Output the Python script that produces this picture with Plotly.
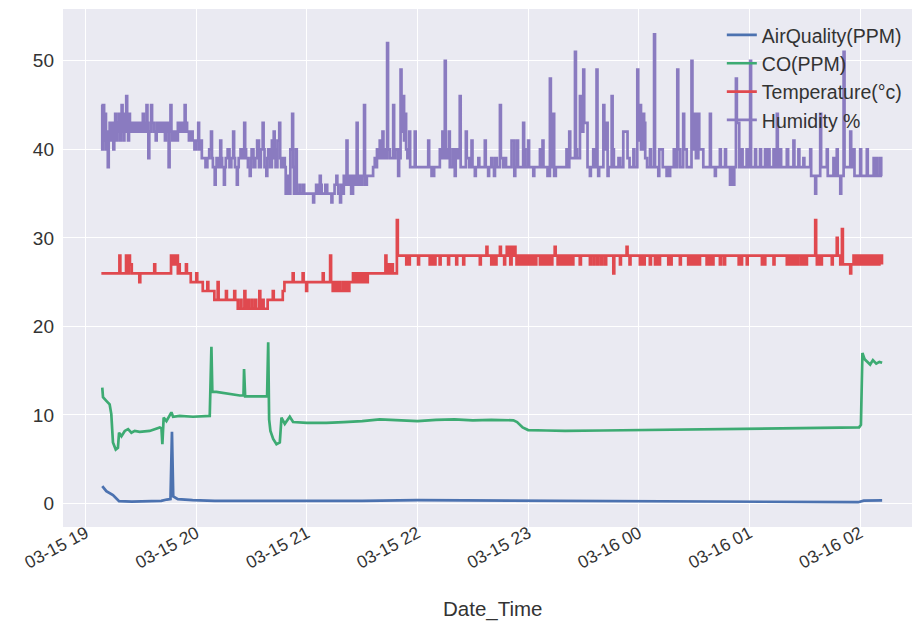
import pandas as pd
import plotly.graph_objects as go

# Sensor log, 15-16 March: readings as (minutes after 19:00, value)
START = pd.Timestamp("2019-03-15 19:00:00")

AIR_QUALITY = [
    (9.0, 1.97), (11.2, 1.4), (14.8, 0.95), (18.1, 0.27), (25, 0.22), (35, 0.25),
    (41, 0.3), (44, 0.45), (46, 0.5), (46.8, 8.1), (47.5, 0.8), (50, 0.5), (58, 0.38),
    (70, 0.3), (100, 0.28), (150, 0.3), (180, 0.38), (210, 0.35), (240, 0.28),
    (300, 0.2), (360, 0.15), (419, 0.15), (422, 0.32), (432, 0.35),
]

CO = [
    (9.0, 13.1), (9.4, 12.0), (11.2, 11.6), (13.0, 11.2), (13.9, 10.1), (14.8, 6.9),
    (16.3, 6.1), (17.5, 6.3), (18.1, 8.0), (19.4, 7.6), (21.2, 8.2), (23.0, 8.4),
    (24.8, 8.0), (26.6, 8.2), (29.3, 8.1), (34.7, 8.2), (40.2, 8.6), (41.1, 8.5),
    (41.6, 6.7), (42.3, 9.7), (43.8, 9.3), (46.5, 10.3), (47.4, 9.8), (51.0, 9.9),
    (58.2, 9.8), (67.3, 9.9), (68.2, 17.7), (68.7, 12.6), (70.9, 12.6), (76.3, 12.4),
    (83.6, 12.2), (85.6, 12.2), (85.9, 15.2), (86.5, 12.1), (94.4, 12.1), (98.4, 12.1),
    (99.0, 18.2), (99.5, 9.5), (100.2, 8.2), (101.7, 7.3), (103.5, 6.7), (105.3, 6.9),
    (106.2, 9.7), (108.0, 9.0), (110.7, 9.8), (112.5, 9.2), (120, 9.1), (130.6, 9.1),
    (140, 9.2), (150, 9.3), (159.5, 9.5), (170, 9.4), (180, 9.3), (190, 9.45), (200, 9.5),
    (210, 9.4), (220, 9.45), (232, 9.4), (234, 9.2), (237, 8.6), (240, 8.3), (250, 8.25),
    (260, 8.2), (280, 8.25), (300, 8.3), (320, 8.35), (340, 8.4), (360, 8.45), (380, 8.5),
    (400, 8.55), (419.5, 8.6), (420.5, 8.9), (421.3, 17.0), (422.5, 16.3), (423.8, 16.0),
    (425.5, 15.7), (427, 16.2), (428.8, 15.8), (430.5, 16.0), (432, 15.9),
]

TEMPERATURE = [
    (8.5, 26), (18.3, 28), (18.8, 26), (21.9, 28), (22.4, 26), (23.5, 28), (24.0, 27),
    (25.0, 26), (29.1, 25), (29.6, 26), (37.2, 27), (37.7, 26), (46.3, 28), (46.8, 27),
    (47.5, 28), (48, 27), (49, 28), (50, 26), (50.5, 27), (51, 26), (54.4, 27), (54.9, 26),
    (57, 25), (60, 26), (60.5, 25), (63.5, 24), (66, 25), (66.5, 24), (69.8, 23), (71.6, 25),
    (72.1, 23), (76.1, 24), (76.6, 23), (80.6, 24), (81.1, 23), (82.5, 22), (84, 23),
    (84.5, 22), (86.1, 24), (86.6, 22), (88, 23), (88.5, 22), (90, 23), (90.5, 22), (92, 23),
    (92.5, 22), (94.2, 24), (94.7, 22), (96, 23), (96.5, 22), (98.7, 23), (101.5, 24),
    (102, 23), (106.9, 24), (107.8, 25), (112.3, 26), (112.8, 25), (117.7, 26), (118.2, 25),
    (119.6, 24), (120.1, 25), (128.6, 26), (129.1, 25), (132.6, 28), (133.1, 25), (134, 24),
    (135, 25), (136, 24), (137, 25), (138, 24), (139.5, 25), (140, 24), (141, 25), (142, 24),
    (143, 25), (145, 26), (146, 25), (147, 26), (148, 25), (149, 26), (150, 25), (151, 26),
    (152, 25), (153, 26), (162.6, 28), (163.1, 26), (164, 27), (165, 26), (166, 27),
    (166.6, 26), (168.8, 32), (169.3, 28),
    (173.9, 27), (174.5, 28), (175.2, 27), (175.8, 28), (180.3, 27), (180.8, 28),
    (186.6, 27), (187.2, 28), (187.8, 27), (188.4, 28), (189.2, 27), (189.7, 28), (192, 27),
    (192.5, 28), (196.6, 27), (197.1, 28), (201, 27), (201.5, 28), (204.8, 27), (205.3, 28),
    (213.8, 27), (214.3, 28), (217.4, 29), (217.9, 28), (220, 27), (220.6, 28), (221.5, 27),
    (222.8, 28), (224.7, 29), (225.2, 28), (227, 27), (227.5, 28), (228.4, 29), (228.9, 28),
    (229.8, 29), (230.3, 27), (231, 29), (231.5, 28), (232.6, 29), (233.1, 28), (233.7, 27),
    (234.3, 28), (235.5, 27), (236, 28), (237, 27), (237.6, 28), (238.8, 27), (239.3, 28),
    (240.5, 27), (241, 28), (242, 27), (242.6, 28), (243.8, 27), (244.4, 28), (246.4, 27),
    (247, 28), (248, 27), (248.5, 28), (249.5, 27), (250, 28), (251, 27), (251.6, 28),
    (252.6, 27), (253.1, 28), (254.4, 29), (254.9, 28), (256, 27), (256.5, 28), (257.5, 27),
    (258, 28), (259, 27), (259.6, 28), (260.8, 27), (261.3, 28), (262.5, 27), (263, 28),
    (264, 27), (264.5, 28), (268, 27), (268.6, 28), (273.5, 27), (274, 28), (275.5, 27),
    (276, 28), (277.5, 27), (278, 28), (279.5, 27), (280, 28), (281.5, 27), (282.3, 28),
    (286.2, 26), (286.7, 28), (289.8, 27), (290.3, 28), (293.4, 29), (293.9, 28), (295, 27),
    (295.5, 28), (300.6, 27), (301.4, 28), (302.4, 27), (303.2, 28), (306, 27), (306.6, 28),
    (308.8, 27), (309.6, 28), (310.6, 27), (311.5, 28), (316, 27), (316.6, 28), (317.2, 27),
    (317.8, 28), (322.3, 27), (322.8, 28), (326.8, 27), (327.6, 28), (328.5, 27), (329.5, 28),
    (330.5, 27), (331.5, 28), (332.4, 27), (333.2, 28), (336.8, 27), (337.6, 28), (338.6, 27),
    (339.5, 28), (340, 27), (340.5, 28), (344, 27), (344.6, 28), (346.2, 27), (346.8, 28),
    (354.2, 27), (354.8, 28), (355.5, 27), (356, 28), (358.6, 27), (359.1, 28), (366.8, 27),
    (367.4, 28), (368, 27), (368.6, 28), (373.1, 27), (373.6, 28), (380.3, 27), (381, 28),
    (382, 27), (382.8, 28), (384, 27), (384.6, 28), (385.8, 27), (386.5, 28), (388, 27),
    (388.6, 28), (390, 27), (391.2, 28), (395.7, 32), (396.2, 28), (396.6, 27), (397.4, 28),
    (398.4, 27), (399.3, 28), (404.7, 27), (405.2, 28), (407.4, 30), (407.9, 28), (409.3, 27),
    (410.2, 31), (410.7, 27), (413.8, 27), (414.7, 26), (415.2, 27), (416.5, 28), (417.5, 27),
    (418.5, 28), (419.5, 27), (420.5, 28), (421.5, 27), (422.5, 28), (423.5, 27), (424.5, 28),
    (425.5, 27), (426.5, 28), (427.5, 27), (428.5, 28), (429.5, 27), (430.5, 28), (431.9, 27),
]

HUMIDITY = [
    (8.5, 45), (9.0, 40), (9.5, 45), (10.0, 41), (10.5, 44), (11.0, 40), (11.5, 42),
    (12.0, 38), (12.5, 41), (13.0, 43), (13.5, 41), (14.0, 43), (14.5, 42), (15.0, 40),
    (15.5, 43), (16.0, 44), (16.5, 41), (17.0, 43), (17.5, 42), (18.0, 44), (18.5, 41),
    (19.0, 43), (19.5, 45), (20.0, 42), (20.5, 41), (21.0, 44), (21.5, 42), (22.0, 46),
    (22.5, 43), (23.0, 41), (23.5, 44), (24.0, 42), (25.0, 43), (26.0, 42), (27.0, 43),
    (28, 42), (29, 43), (30, 42), (31, 44), (31.5, 43), (32, 42), (33, 45), (33.5, 43),
    (34, 39), (34.5, 42), (35.5, 45), (36, 43), (37, 42), (38, 41), (38.5, 43), (39, 42),
    (40, 43), (41, 42), (42, 43), (43, 41), (43.5, 42), (44, 43), (45, 38), (45.5, 42),
    (46, 45), (46.5, 42), (47, 41), (48, 42), (49, 41), (50, 43), (51, 42), (52, 43),
    (53, 42), (53.7, 45), (54.2, 43), (55, 42), (56, 41), (57, 42),
    (58, 41), (59, 40), (60, 41), (61, 43), (61.5, 40), (62, 41), (63, 39),
    (64, 39), (65, 38), (66, 39), (67, 40), (68, 42), (68.5, 39), (69, 38), (70, 36),
    (70.5, 38), (71, 39), (72, 38), (73, 41), (73.5, 39), (74, 38), (75, 36), (75.5, 38),
    (76, 39), (77, 40), (78, 38), (79, 39), (80, 42), (80.5, 39), (81, 38), (82, 36),
    (82.5, 38), (83, 39), (84, 40), (85, 39), (86, 43), (86.5, 40), (87, 39), (88, 38),
    (89, 37), (89.5, 39), (90, 40), (91, 38), (92, 39), (93, 41), (94, 38), (95, 40),
    (96, 43), (96.5, 40), (97, 38), (98, 37), (98.5, 39), (99, 40), (100, 38), (101, 41),
    (101.5, 39), (102, 42), (102.5, 40), (103, 38), (104, 41), (105, 43), (105.5, 39),
    (106, 38), (107, 39),
    (108, 38), (108.5, 35), (109, 37), (110, 35), (111, 40), (112, 44), (112.5, 38),
    (113, 35), (114, 40), (114.5, 35), (116, 36), (116.5, 35), (118, 36), (118.5, 35),
    (123.4, 34), (123.9, 35), (125, 36), (126, 35), (127, 37), (127.5, 36), (128, 35),
    (130, 36), (131, 35), (133.3, 34), (133.8, 35), (135, 36), (136, 37), (136.5, 36),
    (137, 35), (138, 34), (138.5, 36), (139, 35), (140, 37), (141, 36), (141.5, 41),
    (142, 36), (143, 37), (144, 35), (145, 37), (146, 36),
    (147, 43), (147.5, 36), (148, 37), (149, 36), (150, 37), (151, 45), (151.5, 36),
    (152.5, 37), (155.9, 38),
    (156.8, 39), (157.5, 38), (158, 40), (158.5, 39), (159.5, 41), (160, 39), (161, 42),
    (161.5, 40), (162.2, 39), (163.5, 52), (164, 40), (165, 39), (166.8, 45), (167.3, 39),
    (168, 40), (169.5, 37), (170, 39), (170.8, 49), (171.3, 42), (172.2, 46), (172.7, 41),
    (173.2, 44), (173.8, 40), (174.5, 39), (175.5, 42), (176, 38), (178.5, 42), (179, 38),
    (185.8, 41), (186.3, 38), (187.6, 37), (189, 38), (192.1, 40), (192.6, 39), (193.5, 42),
    (194, 39), (194.8, 50), (195.3, 40), (196, 39), (197, 42), (197.5, 38), (199, 40),
    (199.5, 38), (200.2, 37), (200.7, 40), (201.5, 39), (202.9, 46), (203.4, 38),
    (206.2, 42), (206.7, 39), (208, 38), (209.3, 41), (209.8, 38), (211.1, 37), (211.6, 38),
    (213, 39), (213.5, 38), (216.5, 41), (217, 38), (218.3, 37), (218.8, 38), (220, 39),
    (220.5, 38), (221.5, 37), (222, 39), (223, 38), (224.7, 45), (225.2, 39), (226.5, 38),
    (227.5, 39), (228, 38), (231, 41), (232.5, 37), (233, 38), (234, 41), (234.5, 38),
    (237.3, 43), (237.8, 40), (238.5, 38), (240, 41), (240.5, 38), (242.8, 37), (243.3, 38),
    (246.4, 40), (247, 38), (247.8, 41), (248.3, 38), (250.5, 37), (251.8, 48), (252.3, 38),
    (253.6, 44), (254.1, 37), (255, 38), (260.8, 40), (261.3, 38), (262.3, 42), (262.8, 39),
    (265.4, 51), (265.9, 40), (266.5, 39), (268.1, 46), (268.6, 42), (269.9, 49),
    (270.4, 43), (271.7, 43), (272.2, 38), (273.5, 37), (274, 38), (275.3, 40), (275.8, 38),
    (277.1, 49), (277.6, 38), (278, 37), (278.5, 38), (280.8, 45), (281.3, 40), (282.6, 43),
    (283.1, 37), (283.6, 38), (285.3, 46), (285.8, 40), (286.5, 38), (289, 39), (290, 38),
    (291.6, 42), (293.4, 42), (293.9, 39), (295, 38), (297.1, 40), (297.6, 38), (299.2, 49),
    (299.7, 41), (300.7, 45), (301.2, 40), (302.4, 44), (302.9, 43), (303.5, 39),
    (304.5, 38), (306.1, 40), (306.6, 38), (308.3, 53), (308.8, 38), (310.6, 37),
    (311.1, 40), (313, 38), (315.1, 37), (315.6, 38), (316, 37), (317, 38), (319, 40),
    (319.5, 38), (320.9, 49), (321.4, 40), (322.5, 38), (324.1, 44), (324.6, 40), (326, 38),
    (328.6, 50), (329.1, 40), (330.5, 44), (331, 39), (332.3, 44), (332.8, 40), (334.1, 40),
    (335, 38), (338.6, 44), (339.1, 38), (341.3, 37), (341.8, 38), (344, 40), (344.5, 38),
    (346.8, 40), (347.3, 38), (349.5, 36), (350, 38), (351.3, 36), (351.8, 38), (352.7, 48),
    (353.2, 43), (354, 43), (354.5, 38), (355.8, 40), (356.3, 38), (358.5, 40), (359, 38),
    (360.4, 50), (360.9, 38), (363.1, 40), (363.6, 38), (365.8, 40), (366.3, 38),
    (368.5, 40), (369, 38), (370.4, 40), (370.9, 38), (373.1, 40), (373.6, 38), (374.9, 44),
    (375.4, 38), (376.7, 40), (377.2, 38), (380.3, 40), (381, 38), (383.9, 41), (384.4, 38),
    (386.6, 40), (387.1, 38), (389.3, 39), (389.8, 38), (393, 40), (393.5, 37), (395.7, 35),
    (396.2, 37), (398.4, 44), (398.9, 38), (402, 40), (402.5, 37), (405.6, 39), (406.1, 37),
    (407.4, 40), (407.9, 37), (409.3, 35), (409.8, 37), (411.1, 51), (411.6, 38),
    (414.7, 42), (415.2, 38), (416.5, 40), (417, 37), (420.1, 40), (420.6, 37), (423.7, 40),
    (424.2, 37), (427.4, 39), (427.9, 37), (429, 39), (429.5, 37), (431, 39), (431.5, 37),
    (432, 37),
]

SERIES = [
    ("AirQuality(PPM)", AIR_QUALITY, "#4C72B0", "linear"),
    ("CO(PPM)", CO, "#3DAB73", "linear"),
    ("Temperature(°c)", TEMPERATURE, "#E0494F", "hv"),
    ("Humidity %", HUMIDITY, "#8A7BC0", "hv"),
]

Y_TICKS = [0, 10, 20, 30, 40, 50]

FONT = "Liberation Sans, Arial, sans-serif"
TEXT = "#333333"

fig = go.Figure()
for name, readings, color, shape in SERIES:
    minutes = [m for m, _ in readings]
    values = [v for _, v in readings]
    times = START + pd.to_timedelta(minutes, unit="min")
    fig.add_trace(go.Scatter(
        x=times, y=values, mode="lines", name=name,
        line=dict(color=color, width=2.7, shape=shape),
    ))

fig.update_layout(
    width=913, height=624,
    margin=dict(l=63, r=1, t=9, b=97),
    plot_bgcolor="#EAEAF2", paper_bgcolor="white",
    font=dict(family=FONT, size=19, color=TEXT),
    legend=dict(
        x=0.776, xanchor="left", y=0.987, yanchor="top",
        bgcolor="rgba(0,0,0,0)", borderwidth=0,
        font=dict(family=FONT, size=19.5, color=TEXT),
    ),
    showlegend=True,
    annotations=[dict(
        text="Date_Time", xref="paper", yref="paper", x=0.506, y=0,
        xanchor="center", yanchor="top", yshift=-68, showarrow=False,
        font=dict(family=FONT, size=20.5, color=TEXT),
    )],
)
fig.update_xaxes(
    type="date",
    range=[START - pd.Timedelta(minutes=12.3), START + pd.Timedelta(minutes=448.2)],
    dtick=3600000, tickformat="%m-%d %H", tickangle=-28,
    showgrid=True, gridcolor="white", gridwidth=1.3,
    zeroline=False, showline=False, ticks="",
    ticklabelshift=0, ticklabelstandoff=-8,
    tickfont=dict(family=FONT, size=17.5, color=TEXT),
)
fig.update_yaxes(
    range=[-2.65, 55.85], tickvals=Y_TICKS,
    showgrid=True, gridcolor="white", gridwidth=1.3,
    zeroline=False, showline=False, ticks="",
    ticklabelstandoff=8,
    tickfont=dict(family=FONT, size=19, color=TEXT),
)

fig.write_html("out.html")
